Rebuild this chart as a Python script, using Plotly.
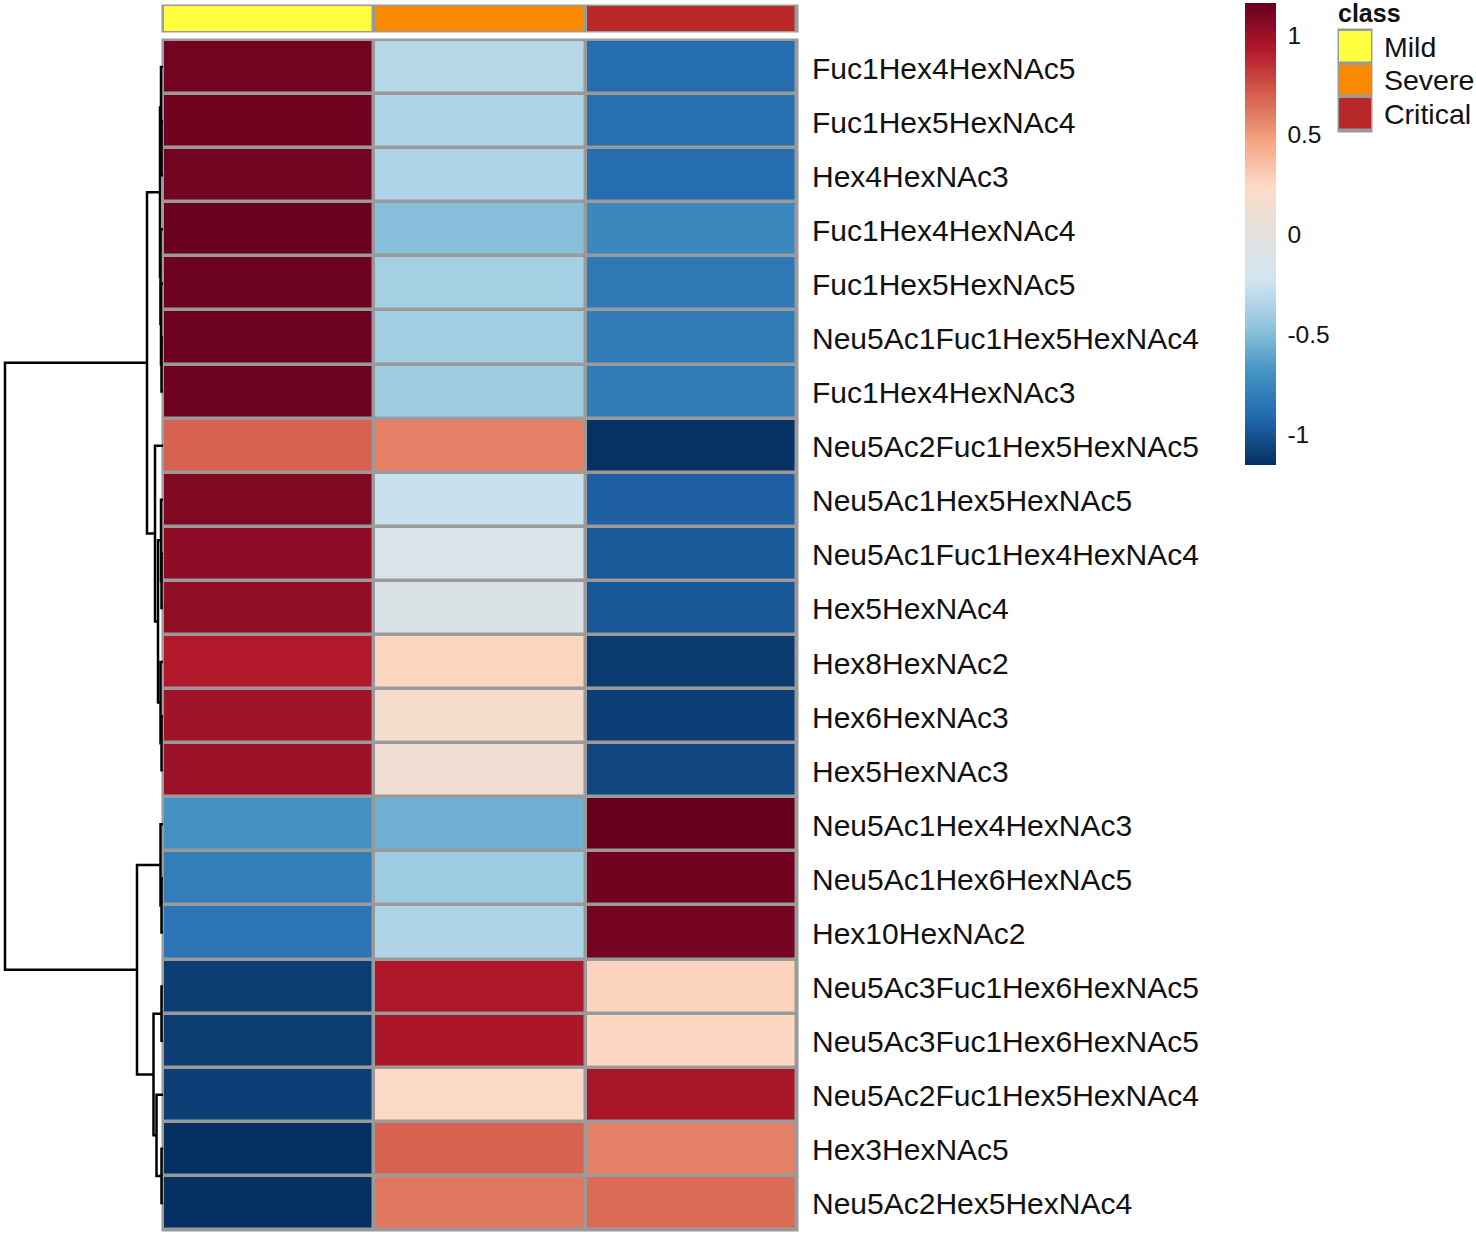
import plotly.graph_objects as go

W, H = 1476, 1234

glycans = ["Fuc1Hex4HexNAc5", "Fuc1Hex5HexNAc4", "Hex4HexNAc3", "Fuc1Hex4HexNAc4",
           "Fuc1Hex5HexNAc5", "Neu5Ac1Fuc1Hex5HexNAc4", "Fuc1Hex4HexNAc3",
           "Neu5Ac2Fuc1Hex5HexNAc5", "Neu5Ac1Hex5HexNAc5", "Neu5Ac1Fuc1Hex4HexNAc4",
           "Hex5HexNAc4", "Hex8HexNAc2", "Hex6HexNAc3", "Hex5HexNAc3",
           "Neu5Ac1Hex4HexNAc3", "Neu5Ac1Hex6HexNAc5", "Hex10HexNAc2",
           "Neu5Ac3Fuc1Hex6HexNAc5", "Neu5Ac3Fuc1Hex6HexNAc5", "Neu5Ac2Fuc1Hex5HexNAc4",
           "Hex3HexNAc5", "Neu5Ac2Hex5HexNAc4"]

mild = [1.125, 1.13, 1.125, 1.155, 1.14, 1.14, 1.14, 0.69, 1.08, 1.04, 1.035,
        0.93, 0.98, 1.0, -0.70, -0.80, -0.85, -1.10, -1.10, -1.09, -1.155, -1.155]
severe = [-0.33, -0.35, -0.35, -0.49, -0.39, -0.40, -0.41, 0.59, -0.26, -0.12, -0.10,
          0.26, 0.17, 0.12, -0.56, -0.42, -0.35, 0.94, 0.95, 0.24, 0.69, 0.62]
critical = [-0.89, -0.87, -0.88, -0.75, -0.83, -0.81, -0.82, -1.15, -0.95, -0.98, -0.99,
            -1.11, -1.09, -1.06, 1.16, 1.13, 1.12, 0.27, 0.25, 0.96, 0.59, 0.66]

classes = ["Mild", "Severe", "Critical"]
class_colors = ["#FFFF40", "#F98A00", "#B82828"]

rdbu = ["#053061", "#2166AC", "#4393C3", "#92C5DE", "#D1E5F0", "#E2E0DE",
        "#FDDBC7", "#F4A582", "#D6604D", "#B2182B", "#67001F"]

colorbar_ticks = [-1, -0.5, 0, 0.5, 1]
colorbar_labels = ["-1", "-0.5", "0", "0.5", "1"]

# row tree: ids 0-21 are the rows, each merge gets the next id from 22 up
merge_left = [5, 4, 3, 1, 0, 26, 9, 8, 12, 11, 29, 7, 27, 15, 14, 17, 20, 19, 37, 36, 34]
merge_right = [6, 22, 23, 2, 25, 24, 10, 28, 13, 30, 31, 32, 33, 16, 35, 18, 21, 38, 39, 40, 41]
merge_height = [1.5, 2, 2.5, 1.5, 2, 3, 1.5, 2, 1.5, 2.5, 5, 8, 16, 1.5, 2.5, 1.5, 1.5, 6.5, 9.5, 26, 158]


def xdom(a, b):
    return [a / W, b / W]


def ydom(top, bottom):
    return [1 - bottom / H, 1 - top / H]


rows = list(range(len(glycans)))
z = [[mild[i], severe[i], critical[i]] for i in rows]

fig = go.Figure()

fig.add_trace(go.Heatmap(
    z=z, x=[0, 1, 2], y=rows, xaxis="x", yaxis="y", xgap=3.5, ygap=3.5,
    zmin=-1.155, zmax=1.16,
    colorscale=[[i / 10, c] for i, c in enumerate(rdbu)],
    colorbar=dict(
        x=1245 / W, xanchor="left", xpad=0,
        y=1 - 234 / H, yanchor="middle", ypad=0,
        len=462 / H, lenmode="fraction", thickness=31, thicknessmode="pixels",
        outlinewidth=0, ticks="outside", ticklen=7, tickcolor="rgba(0,0,0,0)",
        tickmode="array", tickvals=colorbar_ticks, ticktext=colorbar_labels,
        tickfont=dict(size=24.5, color="#111111"),
    ),
))

fig.add_trace(go.Heatmap(
    z=[[0, 1, 2]], x=[0, 1, 2], y=[0], xaxis="x2", yaxis="y2", xgap=3.5, ygap=0,
    zmin=0, zmax=2, showscale=False,
    colorscale=[[i / 2, c] for i, c in enumerate(class_colors)],
))

fig.add_trace(go.Heatmap(
    z=[[0], [1], [2]], x=[0], y=[0, 1, 2], xaxis="x4", yaxis="y4", xgap=0, ygap=3.5,
    zmin=0, zmax=2, showscale=False,
    colorscale=[[i / 2, c] for i, c in enumerate(class_colors)],
))

# dendrogram, each merge sits halfway between its two children
node_y = {i: float(i) for i in rows}
node_h = {i: 0.0 for i in rows}
den_x, den_y = [], []
for k, (a, b, h) in enumerate(zip(merge_left, merge_right, merge_height)):
    den_x += [node_h[a], h, h, node_h[b], None]
    den_y += [node_y[a], node_y[a], node_y[b], node_y[b], None]
    node_y[len(rows) + k] = (node_y[a] + node_y[b]) / 2
    node_h[len(rows) + k] = h

fig.add_trace(go.Scatter(
    x=den_x, y=den_y, xaxis="x3", yaxis="y3", mode="lines",
    line=dict(color="black", width=2.5), showlegend=False, hoverinfo="skip",
))

hidden = dict(visible=False, showgrid=False, zeroline=False)
row_range = [len(rows) - 0.5, -0.5]
label_font = dict(family="Liberation Sans, Arial, sans-serif", size=30, color="#111111")

fig.update_layout(
    width=W, height=H, autosize=False,
    margin=dict(l=0, r=0, t=0, b=0, pad=0),
    paper_bgcolor="white", plot_bgcolor="rgba(0,0,0,0)",
    font=dict(family="Liberation Sans, Arial, sans-serif"),
    xaxis=dict(domain=xdom(163, 797), range=[-0.5, 2.5], anchor="y", **hidden),
    yaxis=dict(domain=ydom(40, 1230), range=row_range, anchor="x", side="right",
               tickmode="array", tickvals=rows, ticktext=glycans, tickfont=label_font,
               ticks="", ticklabelstandoff=14, ticklabelshift=-1, showgrid=False,
               zeroline=False, showline=False),
    xaxis2=dict(domain=xdom(163, 797), range=[-0.5, 2.5], anchor="y2", **hidden),
    yaxis2=dict(domain=ydom(6, 31), range=[-0.5, 0.5], anchor="x2", **hidden),
    xaxis3=dict(domain=xdom(0, 163), range=[163, 0], anchor="y3", **hidden),
    yaxis3=dict(domain=ydom(40, 1230), range=row_range, anchor="x3", **hidden),
    xaxis4=dict(domain=xdom(1339, 1371), range=[-0.5, 0.5], anchor="y4", **hidden),
    yaxis4=dict(domain=ydom(30, 131), range=[2.5, -0.5], anchor="x4", side="right",
                tickmode="array", tickvals=[0, 1, 2], ticktext=classes,
                tickfont=dict(family="Liberation Sans, Arial, sans-serif", size=28.5, color="#111111"),
                ticks="", ticklabelstandoff=12, showgrid=False, zeroline=False, showline=False),
    shapes=[
        dict(type="rect", xref=x + " domain", yref=y + " domain", x0=0, x1=1, y0=0, y1=1,
             layer="below", fillcolor="#9A9A9A", line=dict(color="#9A9A9A", width=3))
        for x, y in [("x", "y"), ("x2", "y2"), ("x4", "y4")]
    ],
    annotations=[dict(
        text="<b>class</b>", xref="paper", yref="paper", x=1336 / W, y=1 - 13 / H,
        xanchor="left", yanchor="middle", showarrow=False,
        font=dict(size=25, color="#111111"),
    )],
)

fig.write_html("out.html", config={"displayModeBar": False},
               post_script="document.body.style.margin='0';")
